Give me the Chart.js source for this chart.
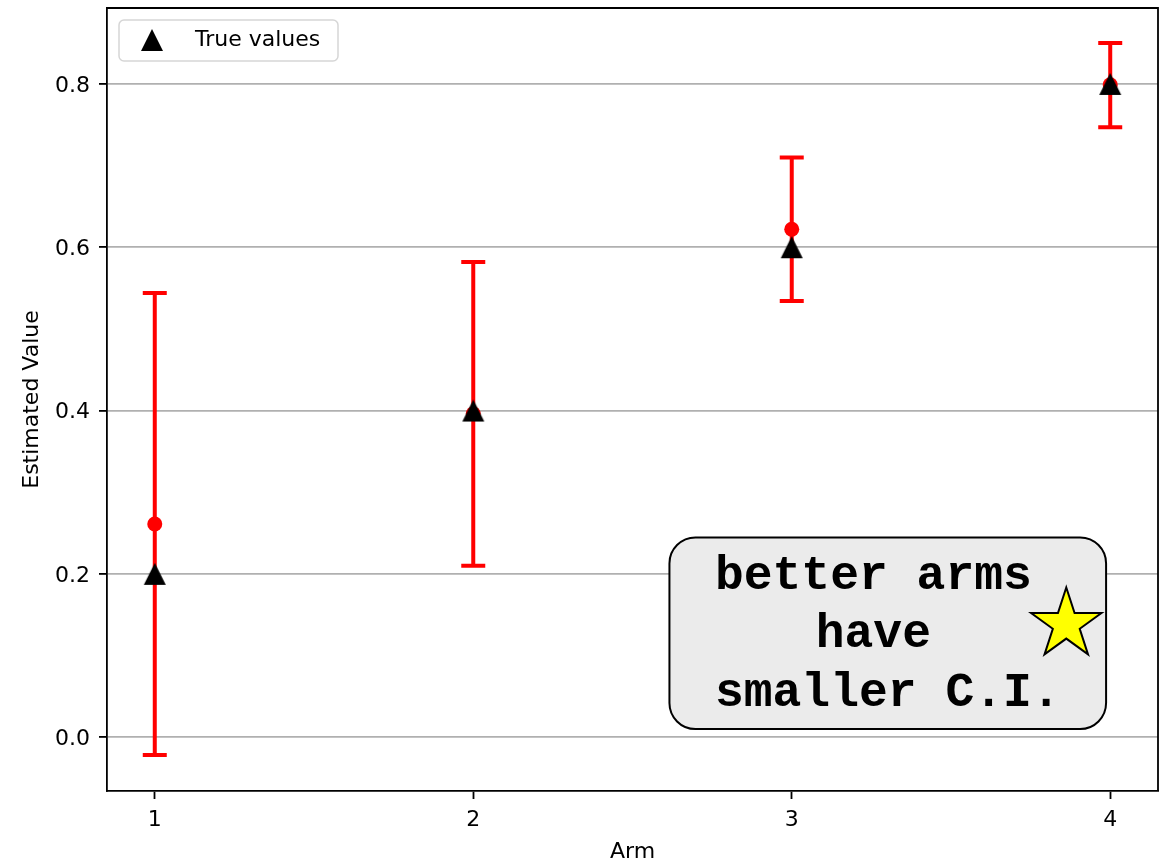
<!DOCTYPE html>
<html>
<head>
<meta charset="utf-8">
<script src="https://cdn.jsdelivr.net/npm/chart.js@4"></script>
<style>
  body { margin: 0; background: #fff; }
  #wrap { width: 1171px; height: 862px; }
</style>
</head>
<body>
<div id="wrap"><canvas id="chart" width="1171" height="862"></canvas></div>
<script>
// data
var arms = [1, 2, 3, 4];
var estimates = [0.261, 0.396, 0.622, 0.799];
var ciLower = [-0.022, 0.210, 0.534, 0.747];
var ciUpper = [0.544, 0.582, 0.710, 0.850];
var trueValues = [0.2, 0.4, 0.6, 0.8];
var yTicks = [0.0, 0.2, 0.4, 0.6, 0.8];
var noteLines = ['better arms ', 'have ', 'smaller C.I.'];

var FONT = '"DejaVu Sans", sans-serif';

// matplotlib style '^' marker (width == height)
function makeTriangle(size) {
  var c = document.createElement('canvas');
  c.width = size + 2;
  c.height = size + 2;
  var g = c.getContext('2d');
  g.fillStyle = '#000';
  g.beginPath();
  g.moveTo(1, size + 1);
  g.lineTo(size / 2 + 1, 1);
  g.lineTo(size + 1, size + 1);
  g.closePath();
  g.fill();
  return c;
}
var triangle = makeTriangle(22);

function roundRect(ctx, x, y, w, h, r) {
  ctx.beginPath();
  ctx.moveTo(x + r, y);
  ctx.lineTo(x + w - r, y);
  ctx.arcTo(x + w, y, x + w, y + r, r);
  ctx.lineTo(x + w, y + h - r);
  ctx.arcTo(x + w, y + h, x + w - r, y + h, r);
  ctx.lineTo(x + r, y + h);
  ctx.arcTo(x, y + h, x, y + h - r, r);
  ctx.lineTo(x, y + r);
  ctx.arcTo(x, y, x + r, y, r);
  ctx.closePath();
}

var errorBars = {
  id: 'errorBars',
  beforeDatasetsDraw: function(chart) {
    var ctx = chart.ctx, xs = chart.scales.x, ys = chart.scales.y;
    ctx.save();
    ctx.strokeStyle = '#ff0000';
    ctx.lineWidth = 4;
    arms.forEach(function(a, i) {
      var x = xs.getPixelForValue(a);
      var yl = ys.getPixelForValue(ciLower[i]);
      var yu = ys.getPixelForValue(ciUpper[i]);
      ctx.beginPath();
      ctx.moveTo(x, yl); ctx.lineTo(x, yu);
      ctx.moveTo(x - 12, yl); ctx.lineTo(x + 12, yl);
      ctx.moveTo(x - 12, yu); ctx.lineTo(x + 12, yu);
      ctx.stroke();
    });
    ctx.restore();
  }
};

var frame = {
  id: 'frame',
  afterDatasetsDraw: function(chart) {
    var ctx = chart.ctx, a = chart.chartArea;
    var xs = chart.scales.x, ys = chart.scales.y;
    ctx.save();

    // note box
    var bx1 = xs.getPixelForValue(2.616), bx2 = xs.getPixelForValue(3.987);
    var by1 = ys.getPixelForValue(0.2446), by2 = ys.getPixelForValue(0.0098);
    roundRect(ctx, bx1, by1, bx2 - bx1, by2 - by1, 26);
    ctx.fillStyle = '#ebebeb';
    ctx.fill();
    ctx.lineWidth = 2;
    ctx.strokeStyle = '#000';
    ctx.stroke();
    var cx = (bx1 + bx2) / 2, cy = (by1 + by2) / 2;
    ctx.fillStyle = '#000';
    ctx.font = 'bold 48px "Liberation Mono", "Courier New", monospace';
    ctx.textAlign = 'center';
    ctx.textBaseline = 'alphabetic';
    noteLines.forEach(function(t, i) {
      ctx.fillText(t, cx, cy + 14 + (i - 1) * 58.5);
    });

    // star
    var sx = xs.getPixelForValue(3.862), sy = ys.getPixelForValue(0.138);
    var R = 37, r = R * 0.382;
    ctx.beginPath();
    for (var k = 0; k < 10; k++) {
      var ang = -Math.PI / 2 + k * Math.PI / 5;
      var rad = k % 2 === 0 ? R : r;
      var px = sx + rad * Math.cos(ang), py = sy + rad * Math.sin(ang);
      if (k === 0) ctx.moveTo(px, py); else ctx.lineTo(px, py);
    }
    ctx.closePath();
    ctx.fillStyle = '#ffff00';
    ctx.fill();
    ctx.lineWidth = 2;
    ctx.strokeStyle = '#000';
    ctx.stroke();

    // legend
    roundRect(ctx, a.left + 12, a.top + 12, 219, 41, 5);
    ctx.fillStyle = 'rgba(255,255,255,0.8)';
    ctx.fill();
    ctx.lineWidth = 1.5;
    ctx.strokeStyle = '#d6d6d6';
    ctx.stroke();
    ctx.drawImage(triangle, a.left + 45 - triangle.width / 2, a.top + 32 - triangle.height / 2);
    ctx.fillStyle = '#000';
    ctx.font = '22px ' + FONT;
    ctx.textAlign = 'left';
    ctx.textBaseline = 'middle';
    ctx.fillText(chart.data.datasets[1].label, a.left + 88, a.top + 32);

    // top and right spines
    ctx.lineWidth = 1.8;
    ctx.strokeStyle = '#000';
    ctx.beginPath();
    ctx.moveTo(a.left, a.top); ctx.lineTo(a.right, a.top); ctx.lineTo(a.right, a.bottom);
    ctx.stroke();
    ctx.restore();
  }
};

var ctx = document.getElementById('chart').getContext('2d');
var chart = new Chart(ctx, {
  type: 'scatter',
  data: {
    datasets: [
      {
        label: 'Estimated',
        data: arms.map(function(a, i) { return { x: a, y: estimates[i] }; }),
        backgroundColor: '#ff0000',
        borderWidth: 0,
        pointRadius: 7.5,
        pointHoverRadius: 7.5,
        order: 2
      },
      {
        label: 'True values',
        data: arms.map(function(a, i) { return { x: a, y: trueValues[i] }; }),
        pointStyle: triangle,
        pointRadius: 1,
        borderWidth: 0,
        order: 1
      }
    ]
  },
  options: {
    responsive: false,
    animation: false,
    events: [],
    layout: { padding: { left: 0, top: 8, right: 13, bottom: 0 } },
    plugins: { legend: { display: false }, tooltip: { enabled: false } },
    scales: {
      x: {
        type: 'linear',
        min: 0.85,
        max: 4.15,
        afterBuildTicks: function(s) { s.ticks = arms.map(function(v) { return { value: v }; }); },
        afterFit: function(s) { s.height = 71; s.paddingLeft = 0; s.paddingRight = 0; },
        grid: { drawOnChartArea: false, tickLength: 8, tickColor: '#000', tickWidth: 1.8 },
        border: { color: '#000', width: 1.8 },
        ticks: { color: '#000', font: { family: FONT, size: 22 }, padding: 8, maxRotation: 0,
                 callback: function(v) { return String(v); } },
        title: { display: true, text: 'Arm', color: '#000', font: { family: FONT, size: 22 },
                 padding: { top: 0, bottom: -3 } }
      },
      y: {
        min: -0.066,
        max: 0.893,
        afterBuildTicks: function(s) { s.ticks = yTicks.map(function(v) { return { value: v }; }); },
        afterFit: function(s) { s.width = 107; s.paddingTop = 0; s.paddingBottom = 0; },
        grid: { color: '#b0b0b0', lineWidth: 1.8, tickLength: 8, tickColor: '#000', tickWidth: 1.8 },
        border: { color: '#000', width: 1.8 },
        ticks: { color: '#000', font: { family: FONT, size: 22 }, padding: 9, labelOffset: 2,
                 callback: function(v) { return v.toFixed(1); } },
        title: { display: true, text: 'Estimated Value', color: '#000', font: { family: FONT, size: 22 },
                 padding: { top: 19, bottom: 0 } }
      }
    }
  },
  plugins: [errorBars, frame]
});
</script>
</body>
</html>
